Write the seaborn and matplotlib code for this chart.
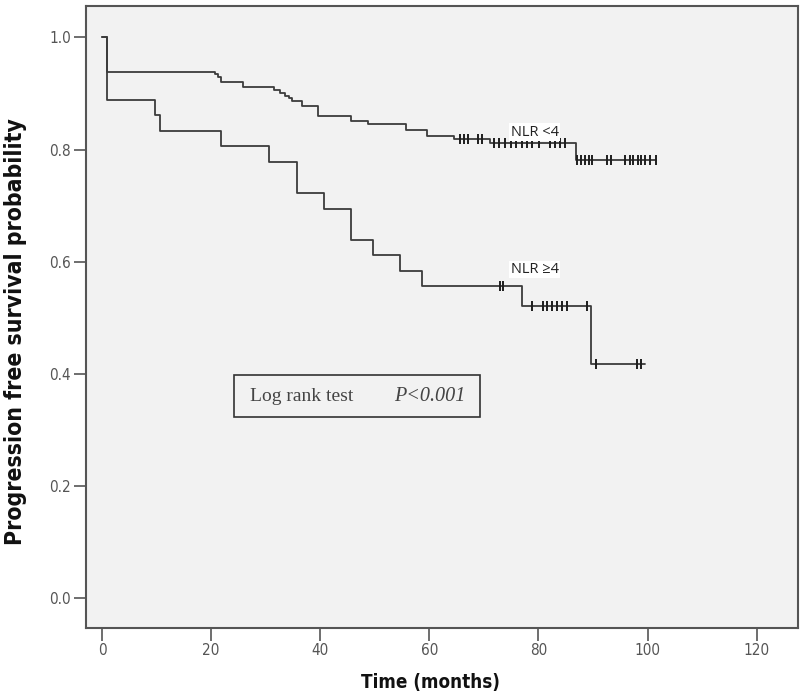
import numpy as np
import matplotlib
matplotlib.use('Agg')
import matplotlib.pyplot as plt
import seaborn as sns
from matplotlib.patches import Rectangle

# Kaplan-Meier steps (time in months, survival probability)
low_times = [0, 0.85, 20.7, 21.3, 21.9, 25.8, 31.6, 32.7, 33.6, 34.2, 34.8, 36.6,
             39.6, 45.7, 48.7, 55.7, 59.6, 64.5, 71.1, 86.8, 101.5]
low_surv = [1.0, 0.939, 0.935, 0.929, 0.921, 0.912, 0.906, 0.901, 0.896, 0.892, 0.887,
            0.877, 0.860, 0.851, 0.845, 0.835, 0.825, 0.818, 0.812, 0.781, 0.781]
low_censored = [65.6, 66.4, 67.1, 69.0, 69.6, 71.8, 72.8, 73.8, 74.9, 75.9, 76.9, 77.9,
                78.9, 80.1, 82.2, 83.1, 84.0, 84.9, 87.1, 87.8, 88.5, 89.2, 89.9, 92.6,
                93.3, 95.9, 96.7, 97.4, 98.2, 98.8, 99.6, 100.5, 101.5]

high_times = [0, 0.85, 9.8, 10.7, 21.8, 30.7, 35.7, 40.7, 45.7, 49.6, 54.7, 58.7,
              76.9, 89.6, 99.6]
high_surv = [1.0, 0.889, 0.861, 0.833, 0.806, 0.778, 0.722, 0.694, 0.639, 0.611,
             0.583, 0.556, 0.521, 0.417, 0.417]
high_censored = [72.9, 73.5, 78.8, 80.8, 81.6, 82.5, 83.4, 84.3, 85.3, 88.9,
                 90.6, 98.0, 98.8]

group_labels = ['NLR <4', 'NLR \u22654']
test_label = 'Log rank test'
p_label = 'P<0.001'

sns.set_style('ticks', {'axes.facecolor': '#f2f2f2', 'axes.edgecolor': '#555555'})
plt.rcParams['font.family'] = ['DejaVu Sans']

fig, ax = plt.subplots(figsize=(8, 6.93), dpi=100)
fig.subplots_adjust(left=0.1075, right=0.997, bottom=0.094, top=0.992)


def surv_at(times, surv, t):
    idx = np.searchsorted(times, t, side='right') - 1
    return np.asarray(surv)[idx]


for times, surv, cens in [(low_times, low_surv, low_censored),
                          (high_times, high_surv, high_censored)]:
    sns.lineplot(x=times, y=surv, drawstyle='steps-post', color='#3c3c3c',
                 linewidth=1.3, estimator=None, ax=ax)
    sns.scatterplot(x=cens, y=surv_at(times, surv, cens), marker='|', s=60,
                    color='#1e1e1e', linewidth=1.4, ax=ax, zorder=3)

# group labels
for txt, yy in zip(group_labels, [0.831, 0.586]):
    ax.text(79.3, yy, txt, ha='center', va='center', fontsize=10.5,
            family=['Open Sans', 'DejaVu Sans'], color='#222222',
            bbox=dict(boxstyle='square,pad=0.1', fc='white', ec='none'))

# log rank box
ax.add_patch(Rectangle((24.2, 0.323), 45.0, 0.074, fill=False, ec='#333333', lw=1.2))
ax.text(27.1, 0.359, test_label, ha='left', va='center', fontsize=14,
        family='Liberation Serif', color='#444444')
ax.text(53.6, 0.359, p_label, ha='left', va='center', fontsize=14.5,
        family='Liberation Serif', style='italic', color='#444444')

ax.set_xlim(-2.93, 127.5)
ax.set_ylim(-0.0535, 1.057)
ax.set_xticks(np.arange(0, 121, 20))
ax.set_yticks(np.arange(0, 1.01, 0.2))
ax.set_yticklabels([f'{v:.1f}' for v in np.arange(0, 1.01, 0.2)])
ax.tick_params(direction='out', length=9, width=1.2, color='#555555',
               labelcolor='#555555', labelsize=11, pad=2)
for lab in ax.get_xticklabels() + ax.get_yticklabels():
    lab.set_fontstretch('condensed')
for sp in ax.spines.values():
    sp.set_linewidth(1.5)
    sp.set_color('#555555')

ax.set_xlabel('Time (months)', fontsize=13.5, fontweight='bold', color='#111111',
              fontstretch='condensed')
ax.set_ylabel('Progression free survival probability', fontsize=16.5,
              fontweight='bold', color='#111111', fontstretch='condensed')
ax.xaxis.set_label_coords(0.484, -0.088)
ax.xaxis.label.set_va('center')
ax.yaxis.set_label_coords(-0.0996, 0.476)
ax.yaxis.label.set_va('center')

fig.savefig('out.png', dpi=100)
